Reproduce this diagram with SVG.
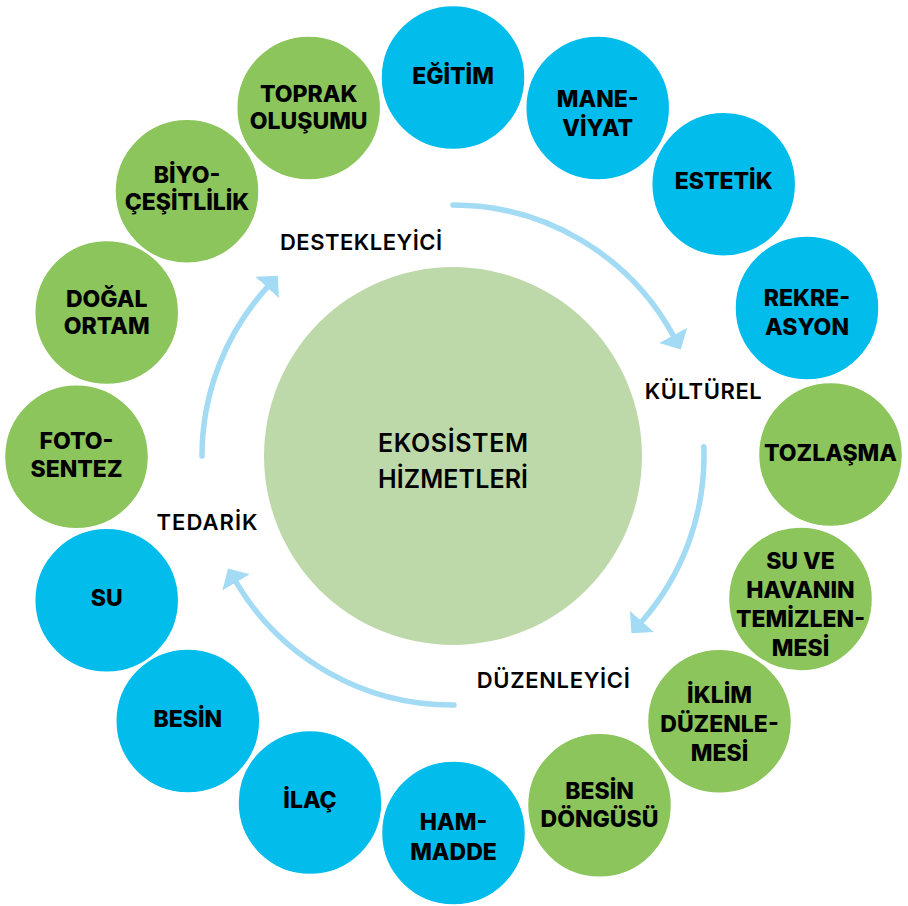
<svg xmlns="http://www.w3.org/2000/svg" width="908" height="906" viewBox="0 0 908 906">
<style>
.blue{fill:#02BCEC;stroke:#ffffff;stroke-width:1.5}
.green{fill:#8BC55C;stroke:#ffffff;stroke-width:1.5}
.lbl{font-family:Inter,"Liberation Sans","DejaVu Sans",sans-serif;font-weight:800;font-size:23px;fill:#000;text-anchor:middle}
.cat{font-family:Inter,"Liberation Sans","DejaVu Sans",sans-serif;font-weight:600;font-size:22px;fill:#000;text-anchor:middle}
.ctr{font-family:Inter,"Liberation Sans","DejaVu Sans",sans-serif;font-weight:600;font-size:25px;fill:#000;text-anchor:middle}
.arc{fill:none;stroke:#A4DBF4;stroke-width:5.5;stroke-linecap:round}
</style>
<defs>
<marker id="ah" markerUnits="userSpaceOnUse" viewBox="0 0 17 32" markerWidth="17" markerHeight="32" refX="0.5" refY="16" orient="auto">
<path d="M0,0 L16,16 L0,32 Z" fill="#A4DBF4"/>
</marker>
</defs>
<rect width="908" height="906" fill="#ffffff"/>

<g id="center">
<circle cx="453" cy="456" r="189" fill="#BED9A9"/>
<text class="ctr" x="453" y="451.7" textLength="150">EKOSİSTEM</text>
<text class="ctr" x="453" y="487.7" textLength="150">HİZMETLERİ</text>
</g>

<g id="connectors">
<path class="arc" d="M453,205 A251,251 0 0 1 673.4,335.8" marker-end="url(#ah)"/>
<path class="arc" d="M703.8,446.8 A251,251 0 0 1 641.6,621.7" marker-end="url(#ah)"/>
<path class="arc" d="M454,705 A251,251 0 0 1 235.9,581.9" marker-end="url(#ah)"/>
<path class="arc" d="M202,456 A251,251 0 0 1 267.4,287.1" marker-end="url(#ah)"/>
</g>

<g id="labels">
<text class="cat" x="361" y="250" textLength="162">DESTEKLEYİCİ</text>
<text class="cat" x="703.3" y="399.3" textLength="117">KÜLTÜREL</text>
<text class="cat" x="553.3" y="688.3" textLength="153">DÜZENLEYİCİ</text>
<text class="cat" x="207" y="530" textLength="101">TEDARİK</text>
</g>

<g id="n-egitim"><circle class="blue" cx="453" cy="77.5" r="72"/><text class="lbl" x="453" y="84">EĞİTİM</text></g>
<g id="n-maneviyat"><circle class="blue" cx="597.7" cy="108" r="72"/><text class="lbl" x="597.7" y="106.7">MANE-</text><text class="lbl" x="597.7" y="136">VİYAT</text></g>
<g id="n-estetik"><circle class="blue" cx="723.7" cy="184.2" r="72"/><text class="lbl" x="723.7" y="189.3">ESTETİK</text></g>
<g id="n-rekreasyon"><circle class="blue" cx="807" cy="308" r="72"/><text class="lbl" x="807" y="306">REKRE-</text><text class="lbl" x="807" y="335">ASYON</text></g>
<g id="n-tozlasma"><circle class="green" cx="830.5" cy="454.5" r="72"/><text class="lbl" x="830.5" y="460.7">TOZLAŞMA</text></g>
<g id="n-suvehava"><circle class="green" cx="800.5" cy="599" r="72"/><text class="lbl" x="800.5" y="569">SU VE</text><text class="lbl" x="800.5" y="598.3">HAVANIN</text><text class="lbl" x="800.5" y="627.3">TEMİZLEN-</text><text class="lbl" x="800.5" y="656">MESİ</text></g>
<g id="n-iklim"><circle class="green" cx="719.5" cy="721.3" r="72"/><text class="lbl" x="719.5" y="702.7">İKLİM</text><text class="lbl" x="719.5" y="731.7">DÜZENLE-</text><text class="lbl" x="719.5" y="760.7">MESİ</text></g>
<g id="n-besindongusu"><circle class="green" cx="599.5" cy="805.3" r="72"/><text class="lbl" x="599.5" y="799.3">BESİN</text><text class="lbl" x="599.5" y="827.3">DÖNGÜSÜ</text></g>
<g id="n-hammadde"><circle class="blue" cx="453.5" cy="833" r="72"/><text class="lbl" x="453.5" y="830">HAM-</text><text class="lbl" x="453.5" y="860">MADDE</text></g>
<g id="n-ilac"><circle class="blue" cx="310" cy="802.5" r="72"/><text class="lbl" x="310" y="807.7">İLAÇ</text></g>
<g id="n-besin"><circle class="blue" cx="187.8" cy="721" r="72"/><text class="lbl" x="187.8" y="726.7">BESİN</text></g>
<g id="n-su"><circle class="blue" cx="106.7" cy="600.3" r="72"/><text class="lbl" x="106.7" y="606">SU</text></g>
<g id="n-fotosentez"><circle class="green" cx="76.5" cy="456.7" r="72"/><text class="lbl" x="76.5" y="449.3">FOTO-</text><text class="lbl" x="76.5" y="477.3">SENTEZ</text></g>
<g id="n-dogalortam"><circle class="green" cx="106.7" cy="312.5" r="72"/><text class="lbl" x="106.7" y="306.7">DOĞAL</text><text class="lbl" x="106.7" y="334.3">ORTAM</text></g>
<g id="n-biyocesitlilik"><circle class="green" cx="187" cy="191.3" r="72"/><text class="lbl" x="187" y="182.7">BİYO-</text><text class="lbl" x="187" y="210">ÇEŞİTLİLİK</text></g>
<g id="n-toprak"><circle class="green" cx="308.7" cy="108" r="72"/><text class="lbl" x="308.7" y="101.7">TOPRAK</text><text class="lbl" x="308.7" y="129.3">OLUŞUMU</text></g>
</svg>
